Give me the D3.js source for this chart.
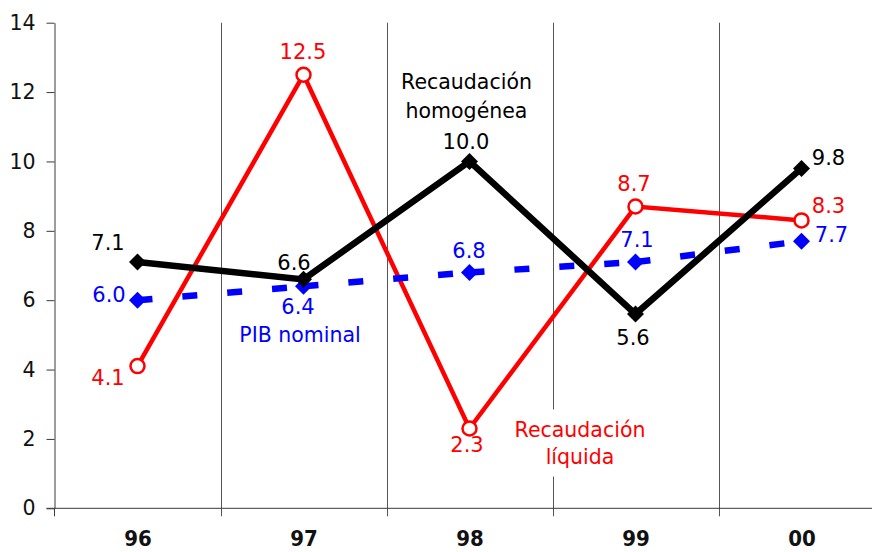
<!DOCTYPE html>
<html>
<head>
<meta charset="utf-8">
<script src="https://cdn.jsdelivr.net/npm/d3@7"></script>
<style>
  html, body { margin: 0; padding: 0; background: #fff; }
  svg { display: block; }
  text { font-family: "DejaVu Sans", Verdana, sans-serif; }
</style>
</head>
<body>
<svg id="chart" width="872" height="552"></svg>
<script>
// ---- data ----
const categories = ["96", "97", "98", "99", "00"];
const yTicks = [0, 2, 4, 6, 8, 10, 12, 14];
const homogenea = [7.1, 6.6, 10.0, 5.6, 9.8];
const liquida = [4.1, 12.5, 2.3, 8.7, 8.3];
const pibNominal = [6.0, 6.4, 6.8, 7.1, 7.7];
const seriesNames = ["Recaudación homogénea", "Recaudación líquida", "PIB nominal"];

// ---- label placement (pixel offsets from each point: [dx, dy baseline]) ----
const homogeneaLabelOffsets = [[-29.5, -12], [-9.5, -9.3], [-3.5, -12.4], [-2.5, 31], [27, -3.3]];
const liquidaLabelOffsets   = [[-29.5, 19], [-0.5, -15.7], [-2.5, 23], [-1.5, -15.5], [27, -7.4]];
const pibLabelOffsets       = [[-28.5, 1.5], [-5.5, 27.7], [-0.5, -14], [1.5, -15], [30, 1]];

const svg = d3.select("#chart");
const W = 872;
const left = 54.5, bandW = 166;
const x = d3.scaleBand().domain(categories).range([left, left + bandW * categories.length]).padding(0);
const y = d3.scaleLinear().domain([0, 14]).range([508.3, 22.7]);
const cx = c => x(c) + x.bandwidth() / 2;

const axisColor = "#3a3a3a";
const gridColor = "#555";

// vertical separators (category boundaries) with tick below the axis
svg.append("g").selectAll("line")
  .data(categories.slice(1))
  .join("line")
  .attr("x1", d => Math.round(x(d)) + 0.5).attr("x2", d => Math.round(x(d)) + 0.5)
  .attr("y1", y(14)).attr("y2", y(0) + 8)
  .attr("stroke", gridColor).attr("stroke-width", 1);

// y axis
const yAxis = svg.append("g")
  .attr("transform", `translate(${left},0)`)
  .call(d3.axisLeft(y).tickValues(yTicks).tickSize(8).tickSizeOuter(0).tickPadding(11).tickFormat(d3.format("d")));
yAxis.select(".domain").attr("stroke", axisColor);
yAxis.selectAll(".tick line").attr("stroke", axisColor);
yAxis.selectAll("text").attr("font-size", 20.5).attr("fill", "#111")
  .attr("font-family", "'DejaVu Sans', sans-serif");

// x axis
svg.append("line")
  .attr("x1", left - 8).attr("x2", W)
  .attr("y1", y(0)).attr("y2", y(0))
  .attr("stroke", axisColor).attr("stroke-width", 1);
svg.append("line")
  .attr("x1", left).attr("x2", left)
  .attr("y1", y(0)).attr("y2", y(0) + 8)
  .attr("stroke", axisColor);
svg.append("g").selectAll("text")
  .data(categories)
  .join("text")
  .attr("x", d => cx(d) + 0.5)
  .attr("y", y(0) + 38)
  .attr("text-anchor", "middle")
  .attr("font-family", "'DejaVu Sans Condensed', 'DejaVu Sans', sans-serif")
  .attr("font-stretch", "condensed")
  .attr("font-weight", "bold")
  .attr("font-size", 22)
  .attr("fill", "#111")
  .text(d => d);

// series name annotations (with white background boxes)
function annotation(lines, px, baselineY, lineH, color) {
  const g = svg.append("g");
  const rect = g.append("rect").attr("fill", "#fff");
  const t = g.append("text")
    .attr("text-anchor", "middle")
    .attr("font-size", 20.5)
    .attr("fill", color);
  lines.forEach((l, i) => {
    t.append("tspan").attr("x", px).attr("y", baselineY + i * lineH).text(l);
  });
  const bb = t.node().getBBox();
  rect.attr("x", bb.x - 8).attr("y", bb.y - 8).attr("width", bb.width + 16).attr("height", bb.height + 16);
}
annotation(["Recaudación", "homogénea"], cx("98") - 3, y(12.09), 29, "#000");
annotation(["Recaudación", "líquida"], x("99") + 27.5, y(2.07), 27, "#ff0000");
annotation([seriesNames[2]], cx("97") - 3.5, y(4.8), 0, "#0000ff");

// ---- series ----
function diamondPath(r) {
  return `M0,${-r}L${r},0L0,${r}L${-r},0Z`;
}

function drawLabels(values, offsets, color) {
  svg.append("g").selectAll("text")
    .data(values)
    .join("text")
    .attr("x", (d, i) => cx(categories[i]) + offsets[i][0])
    .attr("y", (d, i) => y(d) + offsets[i][1])
    .attr("text-anchor", "middle")
    .attr("font-size", 21)
    .attr("fill", color)
    .text(d => d3.format(".1f")(d));
}

const line = d3.line().x((d, i) => cx(categories[i])).y(d => y(d));

// red: Recaudación líquida
svg.append("path")
  .datum(liquida)
  .attr("d", line)
  .attr("fill", "none").attr("stroke", "#ff0000").attr("stroke-width", 4.5)
  .attr("stroke-linejoin", "miter");
svg.append("g").selectAll("circle")
  .data(liquida)
  .join("circle")
  .attr("cx", (d, i) => cx(categories[i]))
  .attr("cy", d => y(d))
  .attr("r", 7)
  .attr("fill", "#fff").attr("stroke", "#ff0000").attr("stroke-width", 2.5);

// blue dashed: PIB nominal (dash pattern restarts on each segment)
const pibSegments = d3.pairs(pibNominal.map((v, i) => [cx(categories[i]), y(v)]));
svg.append("g").selectAll("line")
  .data(pibSegments)
  .join("line")
  .attr("x1", d => d[0][0]).attr("y1", d => d[0][1])
  .attr("x2", d => d[1][0]).attr("y2", d => d[1][1])
  .attr("stroke", "#0000ff").attr("stroke-width", 6.5)
  .attr("stroke-dasharray", "15 30");
svg.append("g").selectAll("path")
  .data(pibNominal)
  .join("path")
  .attr("transform", (d, i) => `translate(${cx(categories[i])},${y(d)})`)
  .attr("d", diamondPath(8.5))
  .attr("fill", "#0000ff");

// black: Recaudación homogénea
svg.append("path")
  .datum(homogenea)
  .attr("d", line)
  .attr("fill", "none").attr("stroke", "#000").attr("stroke-width", 6.5)
  .attr("stroke-linejoin", "miter");
svg.append("g").selectAll("path")
  .data(homogenea)
  .join("path")
  .attr("transform", (d, i) => `translate(${cx(categories[i])},${y(d)})`)
  .attr("d", diamondPath(8.5))
  .attr("fill", "#000");

// value labels
drawLabels(liquida, liquidaLabelOffsets, "#ff0000");
drawLabels(pibNominal, pibLabelOffsets, "#0000ff");
drawLabels(homogenea, homogeneaLabelOffsets, "#000");
</script>
</body>
</html>
